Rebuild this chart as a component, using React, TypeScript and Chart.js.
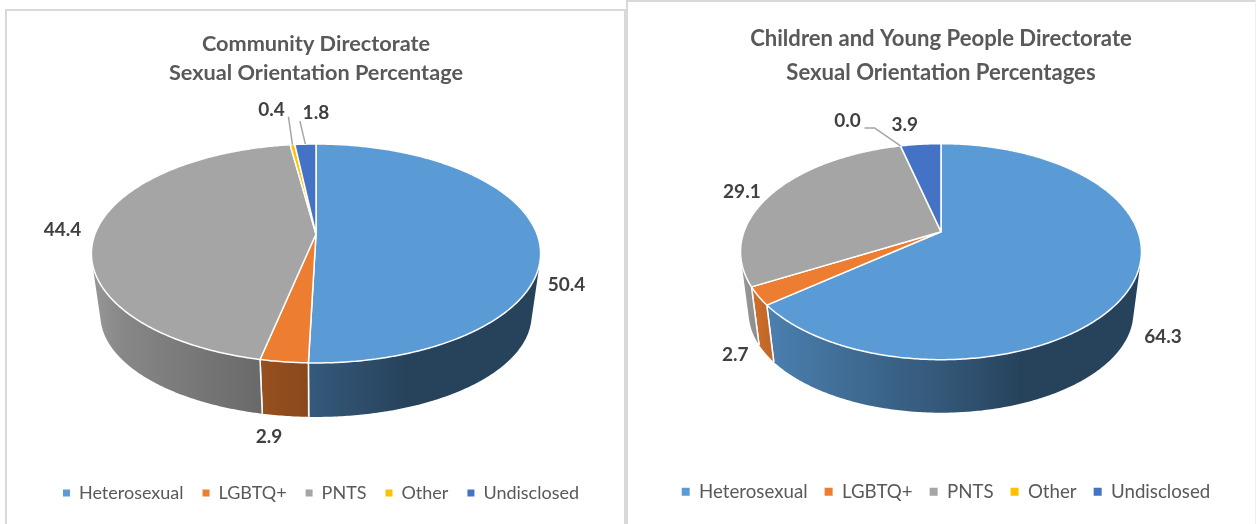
import React, { useEffect, useRef } from "react";
import { Chart, registerables } from "chart.js";

Chart.register(...registerables);

const categories = ["Heterosexual", "LGBTQ+", "PNTS", "Other", "Undisclosed"];
const communityValues = [50.4, 2.9, 44.4, 0.4, 1.8];
const childrenValues = [64.3, 2.7, 29.1, 0.0, 3.9];
const sliceColors = ["#5B9BD5", "#ED7D31", "#A5A5A5", "#FFC000", "#4472C4"];
const communityTitle = ["Community Directorate", "Sexual Orientation Percentage"];
const childrenTitle = ["Children and Young People Directorate", "Sexual Orientation Percentages"];

// Shade of the side wall across the pie's width: [position 0..1, brightness]
const wallShade: [number, number][] = [
  [0, 0.92], [0.07, 0.82], [0.37, 0.64], [0.5, 0.57], [0.7, 0.43], [1, 0.43],
];

type View = {
  shiftY: number; sx: number; sy: number; k: number; lowX: number; lowY: number; depth: number;
  labelOffsets: [number, number][];
  leaders: [number, number][][];
};

const communityView: View = {
  shiftY: -42.5, sx: 221, sy: 106, k: 0.178, lowX: 0.96, lowY: 0.93, depth: 63,
  labelOffsets: [[29, 49], [-15, 75], [-34, 0], [-21, -35], [10.5, -31]],
  leaders: [[], [], [], [[-4, -28]], [[-5.5, -23]]],
};
const childrenView: View = {
  shiftY: -46, sx: 197, sy: 104.3, k: 0.185, lowX: 0.96, lowY: 0.93, depth: 62,
  labelOffsets: [[29, 56], [-23, 58.5], [-31, -1], [-53, -25], [-16, -19]],
  leaders: [[], [], [], [[-26, -18], [-36, -18]], []],
};

function shade(hex: string, m: number) {
  const n = parseInt(hex.slice(1), 16);
  const c = [(n >> 16) & 255, (n >> 8) & 255, n & 255].map((v) => Math.round(v * m));
  return `rgb(${c[0]},${c[1]},${c[2]})`;
}

function disc3d(view: View, values: number[]) {
  return {
    id: "disc3d",
    afterLayout(chart: any) {
      chart.legend.left += 5;
      chart.legend.right += 5;
    },
    beforeDatasetsDraw(chart: any) {
      const ctx: CanvasRenderingContext2D = chart.ctx;
      const arcs = chart.getDatasetMeta(0).data;
      const cx = arcs[0].x;
      const cy = arcs[0].y + view.shiftY;
      const project = (a: number) => {
        const u = Math.cos(a), v = Math.sin(a);
        const w = 1 - view.k * v;
        return [cx + (view.sx * u) / w, cy + (view.sy * v) / w];
      };
      const lower = (a: number) => {
        const u = Math.cos(a), v = Math.sin(a);
        const w = 1 - view.k * v;
        return [cx + (view.lowX * view.sx * u) / w, cy + view.depth + (view.lowY * view.sy * v) / w];
      };
      const steps = (start: number, end: number) => {
        const n = Math.max(2, Math.ceil(Math.abs(end - start) / 0.01));
        const out: number[] = [];
        for (let i = 0; i <= n; i++) out.push(start + ((end - start) * i) / n);
        return out;
      };
      ctx.save();
      ctx.lineJoin = "round";
      ctx.strokeStyle = "#ffffff";
      ctx.lineWidth = 1.5;
      const rx = view.sx * 1.017;
      // side walls: swept between the upper and the lower rim
      arcs.forEach((arc: any, i: number) => {
        if (arc.endAngle - arc.startAngle <= 0) return;
        const g = ctx.createLinearGradient(cx - rx, 0, cx + rx, 0);
        wallShade.forEach(([p, m]) => g.addColorStop(p, shade(sliceColors[i], m)));
        const as = steps(arc.startAngle, arc.endAngle);
        ctx.beginPath();
        for (let j = 0; j < as.length - 1; j++) {
          let q = [project(as[j]), project(as[j + 1]), lower(as[j + 1]), lower(as[j])];
          let area = 0;
          q.forEach((p, n) => {
            const r = q[(n + 1) % 4];
            area += p[0] * r[1] - r[0] * p[1];
          });
          if (area < 0) q = q.reverse();
          q.forEach((p, n) => (n ? ctx.lineTo(p[0], p[1]) : ctx.moveTo(p[0], p[1])));
          ctx.closePath();
        }
        ctx.fillStyle = g;
        ctx.fill();
        // slice edge on the wall
        [arc.startAngle, arc.endAngle].forEach((a: number) => {
          if (Math.sin(a) < view.k) return;
          const p = project(a), q = lower(a);
          ctx.beginPath();
          ctx.moveTo(p[0], p[1]);
          ctx.lineTo(q[0], q[1]);
          ctx.stroke();
        });
      });
      // top faces
      arcs.forEach((arc: any, i: number) => {
        if (arc.endAngle - arc.startAngle <= 0) return;
        ctx.beginPath();
        ctx.moveTo(cx, cy);
        steps(arc.startAngle, arc.endAngle).forEach((a) => {
          const p = project(a);
          ctx.lineTo(p[0], p[1]);
        });
        ctx.closePath();
        ctx.fillStyle = sliceColors[i];
        ctx.fill();
        ctx.stroke();
      });
      // leaders and value labels
      arcs.forEach((arc: any, i: number) => {
        const anchor = project((arc.startAngle + arc.endAngle) / 2);
        const leader = view.leaders[i];
        if (leader.length) {
          ctx.beginPath();
          ctx.strokeStyle = "#A6A6A6";
          ctx.lineWidth = 1.5;
          ctx.moveTo(anchor[0], anchor[1]);
          leader.forEach(([dx, dy]) => ctx.lineTo(anchor[0] + dx, anchor[1] + dy));
          ctx.stroke();
        }
        const [ox, oy] = view.labelOffsets[i];
        ctx.fillStyle = "#404040";
        ctx.font = "bold 19px Lato";
        ctx.textAlign = "center";
        ctx.textBaseline = "middle";
        ctx.fillText(values[i].toFixed(1), anchor[0] + ox, anchor[1] + oy);
      });
      ctx.restore();
      return false;
    },
  };
}

function makeChart(
  canvas: HTMLCanvasElement, values: number[], title: string[], view: View,
  titleSize: number, titleLine: number, titleTop: number,
  legendSize: number, legendGap: number, box: number, bottom: number,
) {
  return new Chart(canvas, {
    type: "pie",
    data: {
      labels: categories,
      datasets: [{ data: values, backgroundColor: sliceColors, borderWidth: 0 }],
    },
    options: {
      responsive: false,
      animation: false,
      layout: { padding: { bottom } },
      plugins: {
        tooltip: { enabled: false },
        title: {
          display: true,
          text: title,
          color: "#595959",
          font: { family: "Lato", size: titleSize, weight: "bold", lineHeight: titleLine },
          padding: { top: titleTop, bottom: 0 },
        },
        legend: {
          position: "bottom",
          labels: {
            boxWidth: box,
            boxHeight: box,
            padding: legendGap,
            color: "#595959",
            font: { family: "Lato", size: legendSize },
          },
        },
      },
    } as any,
    plugins: [disc3d(view, values)],
  });
}

const canvasStyle: React.CSSProperties = { position: "absolute", top: 0, filter: "blur(0.45px)" };

export default function App() {
  const a = useRef<HTMLCanvasElement>(null);
  const b = useRef<HTMLCanvasElement>(null);
  useEffect(() => {
    const c1 = makeChart(a.current!, communityValues, communityTitle, communityView, 21.7, 1.336, 30, 18, 19, 7, 12);
    const c2 = makeChart(b.current!, childrenValues, childrenTitle, childrenView, 22.1, 1.54, 22, 18.7, 17, 8, 13);
    return () => {
      c1.destroy();
      c2.destroy();
    };
  }, []);
  return (
    <div style={{ position: "fixed", left: 0, top: 0, width: 1256, height: 524, overflow: "hidden", background: "#fff" }}>
      <div style={{ position: "absolute", left: 5, top: 9, width: 617, height: 520, border: "2px solid #D9D9D9", background: "#fff" }} />
      <canvas ref={a} width={632} height={524} style={{ ...canvasStyle, left: 0 }} />
      <div style={{ position: "absolute", left: 626, top: 0, width: 627, height: 530, border: "2px solid #D9D9D9", borderRightWidth: 1, borderRightColor: "#EEEEEE", background: "#fff" }} />
      <canvas ref={b} width={628} height={524} style={{ ...canvasStyle, left: 627 }} />
    </div>
  );
}
